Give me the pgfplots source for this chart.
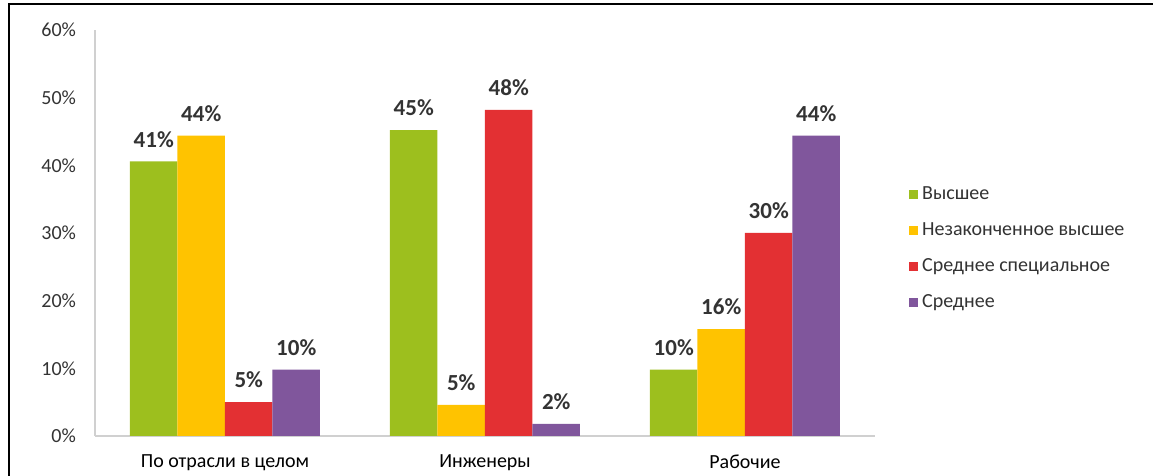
\documentclass[border=0pt]{standalone}
\usepackage{pgfplots}
\pgfplotsset{compat=1.18}
\usepackage{fontspec}
\setmainfont{Carlito}
\definecolor{cgreen}{HTML}{9DBF1E}
\definecolor{cyellow}{HTML}{FFC300}
\definecolor{cred}{HTML}{E33033}
\definecolor{cpurple}{HTML}{80569C}
\definecolor{ctext}{HTML}{333333}
\definecolor{caxis}{HTML}{D0D0D0}
\begin{document}
\begin{tikzpicture}[x=0.5pt,y=0.5pt]
\useasboundingbox (0,0) rectangle (1153,476);
\draw[line width=1pt,black] (9,0) -- (9,472) -- (1153,472);
\begin{axis}[
  at={(47.5pt,20pt)}, anchor=south west,
  scale only axis, width=390pt, height=203pt,
  xmin=-0.5, xmax=2.5, ymin=0, ymax=60,
  ybar=0pt, bar width=23.75pt,
  axis x line*=bottom, axis y line*=left,
  axis line style={caxis, line width=0.8pt, -},
  major tick length=0pt,
  ytick={0,10,...,60},
  yticklabel={\pgfmathprintnumber{\tick}\%},
  /pgf/number format/assume math mode=true,
  yticklabel style={font=\fontsize{10}{12}\selectfont, text=ctext, xshift=-6pt},
  xtick={0,1,2},
  xticklabels={По отрасли в целом, Инженеры, Рабочие},
  xticklabel style={font=\fontsize{10}{12}\selectfont, text=black, yshift=-6pt},
  point meta=explicit symbolic,
  nodes near coords,
  nodes near coords style={font=\bfseries\fontsize{11.5}{13}\selectfont, text=ctext, anchor=center, yshift=11pt},
  legend style={at={(axis description cs:1.043,0.625)}, anchor=north west, draw=none, fill=none,
    font=\fontsize{10}{12}\selectfont, text=ctext, row sep=6pt, inner sep=0pt,
    /tikz/every even column/.append style={column sep=2pt}},
  legend image code/.code={\fill[#1] (-3pt,-2.3pt) rectangle (1.6pt,2.3pt);},
  legend cell align=left,
]
\addplot[fill=cgreen, draw=none] coordinates {(0,40.6) [41\%] (1,45.2) [45\%] (2,9.8) [10\%]};
\addplot[fill=cyellow, draw=none] coordinates {(0,44.4) [44\%] (1,4.6) [5\%] (2,15.8) [16\%]};
\addplot[fill=cred, draw=none] coordinates {(0,5.0) [5\%] (1,48.2) [48\%] (2,30.0) [30\%]};
\addplot[fill=cpurple, draw=none] coordinates {(0,9.8) [10\%] (1,1.8) [2\%] (2,44.4) [44\%]};
\legend{Высшее, Незаконченное высшее, Среднее специальное, Среднее}
\end{axis}
\end{tikzpicture}
\end{document}
